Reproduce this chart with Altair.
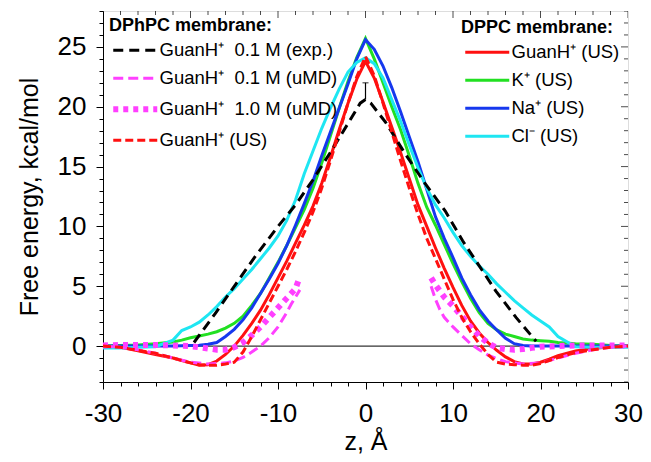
import altair as alt
import pandas as pd

# ---------------- data ----------------
z_grid = [-30, -28, -26, -24, -22, -21, -20, -19, -18, -17, -16, -15, -14, -13, -12, -11,
          -10, -9, -8, -7, -6, -5, -4, -3, -2, -1, 0, 1, 2, 3, 4, 5, 6, 7, 8, 9, 10, 11,
          12, 13, 14, 15, 16, 17, 18, 19, 20, 21, 22, 24, 26, 28, 30]

# DPPC membrane (umbrella sampling), solid lines
dppc_guan = [0.0, -0.1, -0.4, -0.7, -1.0, -1.2, -1.4, -1.6, -1.55, -1.25, -0.7, 0.0, 0.9, 1.9,
             3.0, 4.3, 5.7, 7.1, 8.6, 10.1, 11.7, 13.6, 15.8, 18.1, 20.3, 22.3,
             23.8,
             22.4, 20.4, 18.3, 16.2, 14.0, 11.8, 10.0, 8.2, 6.5, 4.9, 3.4, 2.1, 1.1, 0.3,
             -0.35, -0.9, -1.3, -1.5, -1.5, -1.35, -1.1, -0.8, -0.4, -0.2, -0.05, 0.0]
dppc_k = [0.0, 0.05, 0.1, 0.2, 0.35, 0.5, 0.7, 0.85, 1.0, 1.2, 1.5, 1.9, 2.5, 3.4, 4.4, 5.7,
          7.0, 8.4, 9.9, 11.4, 13.2, 15.3, 17.6, 19.9, 22.1, 24.1,
          25.7,
          24.0, 22.0, 20.0, 18.1, 15.9, 13.6, 11.6, 10.1, 8.5, 6.9, 5.4, 4.0, 2.8, 1.9,
          1.35, 1.0, 0.8, 0.6, 0.5, 0.45, 0.4, 0.3, 0.2, 0.15, 0.05, 0.0]
dppc_na = [0.0, 0.0, 0.0, 0.0, 0.0, 0.02, 0.05, 0.08, 0.15, 0.3, 0.8, 1.4, 2.2, 3.2, 4.4, 5.6,
           6.9, 8.4, 10.1, 11.9, 13.8, 15.9, 17.9, 19.9, 21.9, 24.0,
           25.6,
           24.8, 23.4, 21.6, 19.6, 17.5, 15.4, 13.1, 10.8, 9.0, 7.4, 5.7, 4.3, 3.05, 2.1,
           1.35, 0.65, 0.2, 0.05, 0.0, 0.0, 0.0, 0.0, 0.0, 0.0, 0.0, 0.0]
dppc_cl = [-0.15, -0.15, -0.1, -0.05, 0.5, 1.3, 1.6, 2.0, 2.6, 3.3, 4.1, 4.8, 5.6, 6.4, 7.3,
           8.2, 9.2, 10.5, 12.2, 14.4, 16.3, 18.2, 19.9, 21.5, 22.9, 23.7,
           24.1,
           23.6, 22.4, 20.6, 18.8, 16.8, 14.9, 13.2, 11.8, 10.7, 9.5, 8.4, 7.5, 6.7, 6.0,
           5.2, 4.5, 3.8, 3.2, 2.6, 2.1, 1.6, 0.8, -0.05, -0.1, -0.1, -0.1]

# DPhPC membrane
dphpc_us = [0.0, -0.1, -0.35, -0.6, -1.0, -1.2, -1.4, -1.55, -1.6, -1.6, -1.5, -1.35, -0.5, 0.8,
            2.2, 3.6, 5.0, 6.4, 7.9, 9.5, 11.2, 13.2, 15.5, 17.9, 20.3, 22.5,
            24.2,
            22.6, 20.3, 17.9, 15.5, 13.2, 11.0, 9.0, 7.3, 5.6, 3.9, 2.4, 1.2, 0.2, -0.7,
            -1.35, -1.5, -1.55, -1.6, -1.6, -1.45, -1.2, -0.95, -0.55, -0.3, -0.1, 0.0]

z_exp = [-19.6, -17.2, -14.9, -12.7, -10.0, -8.0, -6.0, -4.0, -2.0, -0.6, 0.0, 0.6, 2.3,
         4.5, 6.8, 9.1, 11.1, 14.9, 17.2, 19.5]
g_exp = [0.3, 2.7, 5.1, 7.4, 10.0, 11.8, 13.9, 16.2, 18.6, 20.3, 20.6, 20.3, 18.7,
         16.1, 13.6, 11.3, 8.8, 4.6, 2.4, 0.4]
exp_err_z = [0.0]
exp_err_lo = [20.6]
exp_err_hi = [22.0]

z_umd01_left = [-30, -28, -26, -24, -22, -20, -18, -16, -15, -14, -13, -12, -11, -10, -9, -8.5, -8, -7.5]
g_umd01_left = [0.0, -0.1, -0.3, -0.6, -1.0, -1.35, -1.5, -1.4, -1.25, -0.95, -0.5, 0.0, 0.7, 1.6, 2.8, 3.5, 4.1, 4.7]
z_umd01_right = [7.5, 8.0, 8.5, 9.0, 10.0, 11.0, 12.0, 13.0, 14.0, 15.0, 16.0, 18.0, 20.0, 22.0, 24.0, 26.0, 28.0, 30.0]
g_umd01_right = [5.0, 3.9, 3.05, 2.4, 1.6, 0.9, 0.2, -0.3, -0.75, -1.05, -1.3, -1.5, -1.4, -1.0, -0.6, -0.3, -0.1, 0.0]

z_umd10_left = [-30, -28, -26, -24, -22, -20, -18, -17, -16, -15, -14, -13, -12, -11, -10, -9, -8, -7.5]
g_umd10_left = [0.05, 0.1, 0.1, 0.1, 0.05, 0.0, -0.2, -0.3, -0.3, -0.1, 0.3, 0.9, 1.6, 2.4, 3.2, 4.0, 4.8, 5.8]
z_umd10_right = [7.5, 8, 9, 10, 11, 12, 13, 14, 15, 16, 17, 18, 19, 20, 22, 24, 26, 28, 30]
g_umd10_right = [5.7, 5.1, 4.1, 3.35, 2.5, 1.6, 0.85, 0.25, -0.15, -0.25, -0.3, -0.25, -0.15, -0.05, 0.0, 0.05, 0.05, 0.05, 0.05]

dppc_labels = ["GuanH\u207a (US)", "K\u207a (US)", "Na\u207a (US)", "Cl\u207b (US)"]
dppc_colors = ["#ff1010", "#22e022", "#1638ee", "#1ee6f2"]

dphpc_labels = ["GuanH\u207a\u00a0 0.1 M (exp.)", "GuanH\u207a\u00a0 0.1 M (uMD)",
                "GuanH\u207a\u00a0 1.0 M (uMD)", "GuanH\u207a (US)"]
dphpc_colors = ["#000000", "#ff40ff", "#ff40ff", "#ff1010"]
dphpc_dashes = [[10, 6], [10, 5], [5, 5], [8, 4]]
dphpc_widths = [3, 3, 6, 3]

x_ticks = [-30, -28, -26, -24, -22, -20, -18, -16, -14, -12, -10, -8, -6, -4, -2, 0,
           2, 4, 6, 8, 10, 12, 14, 16, 18, 20, 22, 24, 26, 28, 30]
y_ticks = [-3, -2, -1, 0, 1, 2, 3, 4, 5, 6, 7, 8, 9, 10, 11, 12, 13, 14, 15, 16, 17, 18,
           19, 20, 21, 22, 23, 24, 25, 26, 27, 28]
x_domain = [-30, 30]
y_domain = [-3, 28]

# ---------------- tables ----------------
dppc_rows = []
for lab, vals in zip(dppc_labels, [dppc_guan, dppc_k, dppc_na, dppc_cl]):
    for z, g in zip(z_grid, vals):
        dppc_rows.append({"z": z, "g": g, "ion": lab})
dppc_df = pd.DataFrame(dppc_rows)

dphpc_rows = []
def add(lab, seg, zs, gs):
    for z, g in zip(zs, gs):
        dphpc_rows.append({"z": z, "g": g, "series": lab, "seg": seg})
add(dphpc_labels[0], "exp", z_exp, g_exp)
add(dphpc_labels[1], "u01L", z_umd01_left, g_umd01_left)
add(dphpc_labels[1], "u01R", z_umd01_right, g_umd01_right)
add(dphpc_labels[2], "u10L", z_umd10_left, g_umd10_left)
add(dphpc_labels[2], "u10R", z_umd10_right, g_umd10_right)
add(dphpc_labels[3], "us", z_grid, dphpc_us)
dphpc_df = pd.DataFrame(dphpc_rows)

err_df = pd.DataFrame({"z": exp_err_z, "g": exp_err_lo, "hi": exp_err_hi})
zero_df = pd.DataFrame({"g": [0.0]})
xt_df = pd.DataFrame({"z": x_ticks, "g": [y_domain[1]] * len(x_ticks)})
yt_df = pd.DataFrame({"g": y_ticks, "z": [x_domain[1]] * len(y_ticks)})

# ---------------- chart ----------------
FONT = "Liberation Sans"
W, H = 525, 371
XS = alt.Scale(domain=x_domain, nice=False, zero=False)
YS = alt.Scale(domain=y_domain, nice=False, zero=False)

x_tick_size = {"condition": {"test": "datum.value % 10 === 0", "value": 7}, "value": 4}
y_tick_size = {"condition": {"test": "datum.value % 5 === 0", "value": 7}, "value": 4}

common_axis = dict(grid=False, domainColor="black", tickColor="black", labelColor="black",
                   titleColor="black", labelFont=FONT, titleFont=FONT, labelFontSize=26,
                   titleFontSize=25, titleFontWeight="normal", labelOverlap=False,
                   labelFlush=False, tickWidth=1, domainWidth=1)

XA = alt.Axis(values=x_ticks, tickSize=x_tick_size, orient="bottom",
              labelExpr="datum.value % 10 === 0 ? '' + datum.value : ''",
              title="z, \u00c5", labelPadding=11, titlePadding=3, **common_axis)
YA = alt.Axis(values=y_ticks, tickSize=y_tick_size, orient="left",
              labelExpr="datum.value % 5 === 0 ? '' + datum.value : ''",
              title="Free energy, kcal/mol", labelPadding=10, titlePadding=15,
              **common_axis)

X = alt.X("z:Q", scale=XS, axis=XA)
Y = alt.Y("g:Q", scale=YS, axis=YA)

leg_common = dict(symbolType="M-2.5,0H19.5", symbolSize=16, labelFont=FONT, titleFont=FONT,
                  labelFontSize=18.5, titleFontSize=18, titleFontWeight="bold",
                  labelColor="black", titleColor="black", rowPadding=9, titlePadding=6,
                  orient="none", padding=0, labelLimit=400, labelOffset=32)

dphpc_legend = alt.Legend(title="DPhPC membrane:", legendX=6, legendY=6, **leg_common)
dppc_legend = alt.Legend(title="DPPC membrane:", legendX=358, legendY=8,
                         symbolStrokeWidth=3, **leg_common)

zero_line = alt.Chart(zero_df).mark_rule(color="black", strokeWidth=1).encode(y=Y)

# inward ticks on the top and right frame edges (clipped halves of centred ticks)
def frame_ticks(df, orient, test, size):
    return alt.Chart(df).transform_filter(test).mark_tick(
        orient=orient, color="black", thickness=1, size=size, clip=True
    ).encode(x=X, y=Y)

top_major = frame_ticks(xt_df, "vertical", "datum.z % 10 === 0", 14)
top_minor = frame_ticks(xt_df, "vertical", "datum.z % 10 !== 0", 8)
right_major = frame_ticks(yt_df, "horizontal", "datum.g % 5 === 0", 14)
right_minor = frame_ticks(yt_df, "horizontal", "datum.g % 5 !== 0", 8)

dppc = alt.Chart(dppc_df).mark_line(strokeWidth=3).encode(
    x=X, y=Y,
    color=alt.Color("ion:N", scale=alt.Scale(domain=dppc_labels, range=dppc_colors),
                    legend=dppc_legend),
)

dphpc = alt.Chart(dphpc_df).mark_line().encode(
    x=X, y=Y,
    stroke=alt.Stroke("series:N", scale=alt.Scale(domain=dphpc_labels, range=dphpc_colors),
                      legend=dphpc_legend),
    strokeDash=alt.StrokeDash("series:N", scale=alt.Scale(domain=dphpc_labels, range=dphpc_dashes),
                              legend=dphpc_legend),
    strokeWidth=alt.StrokeWidth("series:N",
                                scale=alt.Scale(type="ordinal", domain=dphpc_labels, range=dphpc_widths),
                                legend=dphpc_legend),
    detail="seg:N",
)

err = alt.Chart(err_df).mark_rule(color="black", strokeWidth=1.2).encode(
    x=X, y=Y, y2="hi:Q",
)
err_cap = alt.Chart(err_df).mark_tick(color="black", orient="horizontal", size=6, thickness=1.2).encode(
    x=X, y=alt.Y("hi:Q", scale=YS, axis=YA),
)

chart = alt.layer(zero_line, top_major, top_minor, right_major, right_minor,
                  dppc, dphpc, err, err_cap).properties(
    width=W, height=H,
    autosize=alt.AutoSizeParams(type="none"),
    padding={"left": 95, "top": 3, "right": 15, "bottom": 72},
).configure_view(stroke="black", strokeWidth=1).configure(background="white")

chart.save("out.html", embed_options={"renderer": "svg", "actions": False})
